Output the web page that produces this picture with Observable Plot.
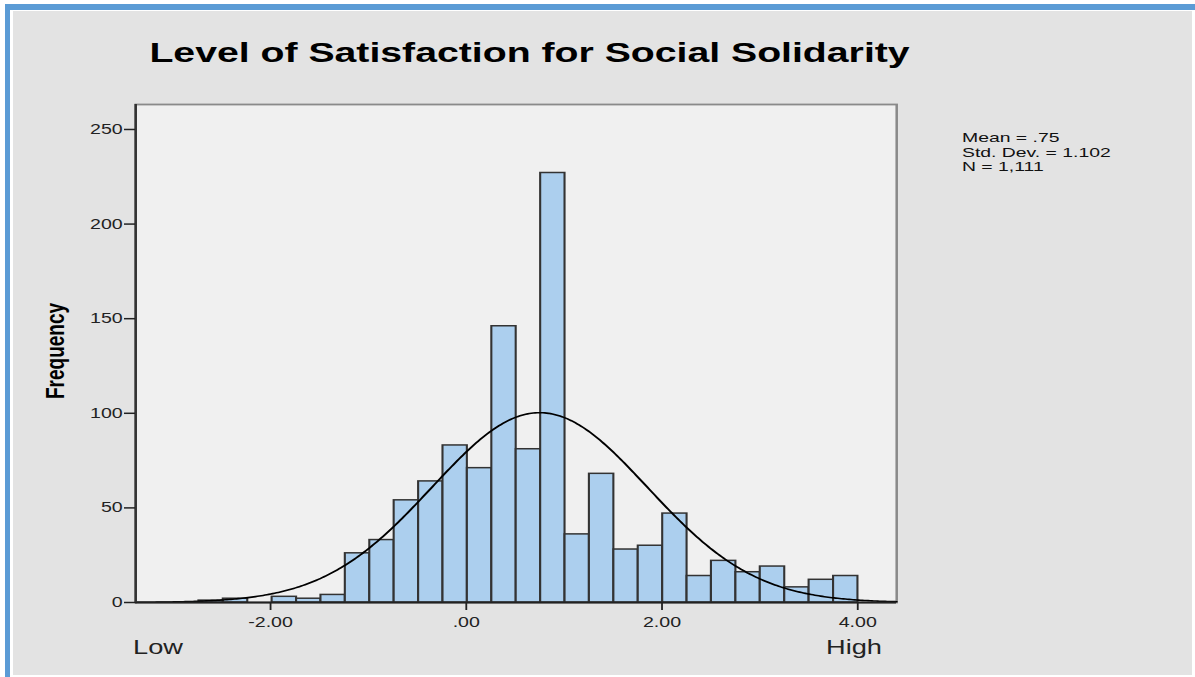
<!DOCTYPE html>
<html>
<head>
<meta charset="utf-8">
<script src="https://cdn.jsdelivr.net/npm/d3@7"></script>
<script src="https://cdn.jsdelivr.net/npm/@observablehq/plot@0.6"></script>
<style>
  html, body { margin: 0; padding: 0; background: #ffffff; }
  #wrap { position: relative; width: 1195px; height: 677px; overflow: hidden; background: #ffffff;
          font-family: "Liberation Sans", Arial, sans-serif; color: #111; }
  #bTop { position: absolute; left: 5px; top: 4px; width: 1190px; height: 6px; background: #5b9bd5; }
  #bLeft { position: absolute; left: 5px; top: 4px; width: 5px; height: 673px; background: #5b9bd5; }
  #panel { position: absolute; left: 13px; top: 11px; width: 1179px; height: 664px; background: #e3e3e3; }
  #chart { position: absolute; left: 0; top: 0; width: 1195px; height: 677px; }
  #chart svg { display: block; max-width: none !important; }
  .txt { position: absolute; white-space: nowrap; transform-origin: 0 0; }
  #title { left: 0; top: 39.3px; width: 1060px; text-align: center; font-size: 28px; line-height: 28px; font-weight: bold; color: #000; }
  #title span { display: inline-block; transform: scaleX(1.4); }
  #legend { left: 962px; top: 131.2px; font-size: 13px; line-height: 14.5px; color: #111; transform: scaleX(1.49); }
  #low { left: 133px; top: 637px; font-size: 20px; line-height: 20px; color: #222; transform: scaleX(1.36); }
  #high { left: 826px; top: 637px; font-size: 20px; line-height: 20px; color: #222; transform: scaleX(1.36); }
  #ylab { left: 0; top: 0; font-size: 19px; line-height: 19px; font-weight: bold; color: #000;
          transform: translate(55px, 351px) scaleX(1.4) rotate(-90deg) translate(-50%, -50%); }
</style>
</head>
<body>
<div id="wrap">
  <div id="panel"></div>
  <div id="bTop"></div>
  <div id="bLeft"></div>
  <div id="chart"></div>
  <div id="title" class="txt"><span></span></div>
  <div id="legend" class="txt"></div>
  <div id="low" class="txt"></div>
  <div id="high" class="txt"></div>
  <div id="ylab" class="txt"></div>
</div>
<script>
// ---- data ----
const titleText = "Level of Satisfaction for Social Solidarity";
const yLabel = "Frequency";
const lowLabel = "Low";
const highLabel = "High";
const statsLines = ["Mean = .75", "Std. Dev. = 1.102", "N = 1,111"];
const meanVal = 0.75;
const sdVal = 1.102;
const nVal = 1111;

const binEdges = [-2.730, -2.481, -2.231, -1.982, -1.732, -1.483, -1.234, -0.984, -0.735, -0.485,
                  -0.236, 0.013, 0.263, 0.512, 0.762, 1.011, 1.260, 1.510, 1.759, 2.009,
                  2.258, 2.507, 2.757, 3.006, 3.256, 3.505, 3.755, 4.004];
const counts = [1, 2, 0, 3, 2, 4, 26, 33, 54, 64, 83, 71, 146, 81, 227, 36, 68, 28, 30, 47,
                14, 22, 16, 19, 8, 12, 14];

const xDomain = [-3.378, 4.398];
const yDomain = [0, 263.2];
const yTicks = [0, 50, 100, 150, 200, 250];
const xTicks = [-2, 0, 2, 4];
const xTickLabels = ["-2.00", ".00", "2.00", "4.00"];

// ---- derived tables ----
const bins = counts.map((c, i) => ({x1: binEdges[i], x2: binEdges[i + 1], count: c}));
const binWidth = (binEdges[binEdges.length - 1] - binEdges[0]) / counts.length;
const curve = d3.range(0, 401).map(k => {
  const x = xDomain[0] + (xDomain[1] - xDomain[0]) * k / 400;
  const z = (x - meanVal) / sdVal;
  return {x, y: nVal * binWidth * Math.exp(-0.5 * z * z) / (sdVal * Math.sqrt(2 * Math.PI))};
});

// The reference is horizontally stretched (about 1.4x): the plot is drawn at a
// narrower width and the SVG is shown at full width with a non-uniform viewBox.
const stretch = 1.4;
const W = 1195, H = 677;

const chart = Plot.plot({
  width: W / stretch,
  height: H,
  marginLeft: 135 / stretch,
  marginRight: 299 / stretch,
  marginTop: 104,
  marginBottom: 75,
  style: {background: "transparent", fontFamily: "'Liberation Sans', Arial, sans-serif", fontSize: "14px", color: "#222"},
  x: {domain: xDomain},
  y: {domain: yDomain},
  marks: [
    Plot.frame({fill: "#f0f0f0", stroke: "#8a8a8a", strokeWidth: 1.8}),
    Plot.rectY(bins, {x1: "x1", x2: "x2", y: "count", fill: "#accfee", stroke: "#333", strokeWidth: 1.5}),
    Plot.line(curve, {x: "x", y: "y", stroke: "#000", strokeWidth: 1.6}),
    Plot.ruleY([0], {stroke: "#222", strokeWidth: 2}),
    Plot.ruleX([xDomain[0]], {stroke: "#333", strokeWidth: 1.8}),
    Plot.axisY({ticks: yTicks, tickSize: 11 / stretch, tickPadding: 2 / stretch, label: null, color: "#222",
                strokeWidth: 1.5, fontSize: 14}),
    Plot.axisX({ticks: xTicks, tickFormat: d => xTickLabels[xTicks.indexOf(d)], tickSize: 8, tickPadding: 7,
                label: null, color: "#222", strokeWidth: 1.3, fontSize: 14})
  ]
});
chart.setAttribute("width", W);
chart.setAttribute("height", H);
chart.setAttribute("preserveAspectRatio", "none");
chart.style.width = W + "px";
chart.style.height = H + "px";
chart.style.maxWidth = "none";
document.getElementById("chart").appendChild(chart);

document.querySelector("#title span").textContent = titleText;
document.getElementById("legend").innerHTML = statsLines.map(s => `<div>${s}</div>`).join("");
document.getElementById("low").textContent = lowLabel;
document.getElementById("high").textContent = highLabel;
document.getElementById("ylab").textContent = yLabel;
</script>
</body>
</html>
